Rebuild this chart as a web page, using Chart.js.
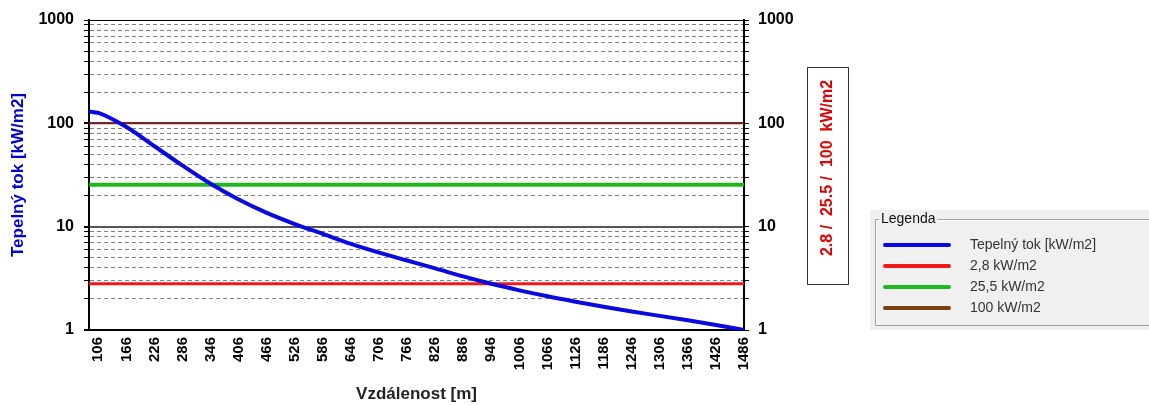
<!DOCTYPE html>
<html>
<head>
<meta charset="utf-8">
<script src="https://cdn.jsdelivr.net/npm/chart.js@4.4.1/dist/chart.umd.min.js"></script>
<style>
html,body{margin:0;padding:0;background:#fff;}
#wrap{position:relative;width:1149px;height:405px;}
</style>
</head>
<body>
<div id="wrap"><canvas id="chart" width="1149" height="405"></canvas></div>
<script>
// ── DATA ────────────────────────────────────────────────────────────────────
const distances = [86, 106, 166, 226, 286, 346, 406, 466, 526, 586, 646, 706, 766,
                   826, 886, 946, 1006, 1066, 1126, 1186, 1246, 1306, 1366, 1426, 1486];
const heatFlux  = [130, 126, 92, 60, 39, 26, 18.3, 13.6, 10.6, 8.5, 6.8, 5.6, 4.7,
                   3.95, 3.3, 2.8, 2.42, 2.12, 1.88, 1.68, 1.51, 1.37, 1.24, 1.12, 1.0];
const thresholds = [2.8, 25.5, 100];
const seriesLabels = ['Tepelný tok [kW/m2]', '2,8 kW/m2', '25,5 kW/m2', '100 kW/m2'];
const xTickValues = [106, 166, 226, 286, 346, 406, 466, 526, 586, 646, 706, 766, 826,
                     886, 946, 1006, 1066, 1126, 1186, 1246, 1306, 1366, 1426, 1486];
const yGridValues = [1, 2, 3, 4, 5, 6, 7, 8, 9, 10, 20, 30, 40, 50, 60, 70, 80, 90,
                     100, 200, 300, 400, 500, 600, 700, 800, 900, 1000];
const yLabelValues = [1, 10, 100, 1000];
const sideNote = '2.8 /  25.5 /  100  kW/m2';

const X_MIN = distances[0], X_MAX = distances[distances.length - 1];
const FONT = "'Liberation Sans', Arial, sans-serif";

const lineAt = v => [{x: X_MIN, y: v}, {x: X_MAX, y: v}];

// side box with the threshold note
const sideBoxPlugin = {
  id: 'sideBox',
  afterDraw(chart) {
    const c = chart.ctx;
    c.save();
    c.strokeStyle = '#333';
    c.lineWidth = 1;
    c.strokeRect(807.5, 67.5, 41, 217);
    c.translate(828, 168);
    c.rotate(-Math.PI / 2);
    c.fillStyle = '#e00000';
    c.font = 'bold 16px ' + FONT;
    c.textAlign = 'center';
    c.textBaseline = 'middle';
    c.fillText(sideNote, 0, 0);
    c.restore();
  }
};

// group-box style legend
const legendBoxPlugin = {
  id: 'legendBox',
  afterDraw(chart) {
    const c = chart.ctx;
    c.save();
    c.fillStyle = '#f0f0f0';
    c.fillRect(870, 210, 279, 120);
    // etched frame
    c.lineWidth = 1;
    c.strokeStyle = '#a0a0a0';
    c.beginPath();
    c.moveTo(875.5, 325.5); c.lineTo(875.5, 219.5); c.lineTo(1149, 219.5);
    c.moveTo(875.5, 325.5); c.lineTo(1149, 325.5);
    c.stroke();
    c.strokeStyle = '#ffffff';
    c.beginPath();
    c.moveTo(876.5, 325); c.lineTo(876.5, 220.5); c.lineTo(1149, 220.5);
    c.stroke();
    c.font = '14px ' + FONT;
    c.textBaseline = 'middle';
    const title = 'Legenda';
    const tw = c.measureText(title).width;
    c.fillStyle = '#f0f0f0';
    c.fillRect(879, 211, tw + 4, 16);
    c.fillStyle = '#111';
    c.fillText(title, 881, 219);
    chart.data.datasets.forEach((ds, i) => {
      const y = 245 + i * 21;
      c.strokeStyle = ds.legendColor || ds.borderColor;
      c.lineWidth = 4;
      c.lineCap = 'round';
      c.beginPath();
      c.moveTo(885, y); c.lineTo(949, y);
      c.stroke();
      c.fillStyle = '#333';
      c.fillText(ds.label, 970, y);
    });
    c.restore();
  }
};

const gridColor = ctx => {
  const v = ctx.tick ? ctx.tick.value : null;
  if (v === 1000) return '#000';
  if (yLabelValues.includes(v)) return '#555';
  return '#808080';
};

new Chart(document.getElementById('chart'), {
  type: 'line',
  data: {
    datasets: [
      {label: seriesLabels[0], data: distances.map((d, i) => ({x: d, y: heatFlux[i]})),
       borderColor: '#0a0ae0', borderWidth: 4, pointRadius: 0, cubicInterpolationMode: 'monotone', fill: false},
      {label: seriesLabels[1], data: lineAt(thresholds[0]), borderColor: '#f01818', borderWidth: 3, pointRadius: 0, fill: false},
      {label: seriesLabels[2], data: lineAt(thresholds[1]), borderColor: '#20b820', borderWidth: 4, pointRadius: 0, fill: false},
      {label: seriesLabels[3], data: lineAt(thresholds[2]), borderColor: '#7a1e1e', legendColor: '#7a4214', borderWidth: 2, pointRadius: 0, fill: false},
    ]
  },
  options: {
    responsive: false,
    animation: false,
    layout: {padding: {top: 20, left: 0, right: 0, bottom: 0}},
    plugins: {legend: {display: false}, tooltip: {enabled: false}},
    scales: {
      x: {
        type: 'linear', min: X_MIN, max: X_MAX,
        afterBuildTicks: s => { s.ticks = xTickValues.map(v => ({value: v})); },
        afterFit: s => { s.height = 75; },
        grid: {display: false, drawTicks: false},
        border: {display: true, color: '#000', width: 2},
        ticks: {autoSkip: false, minRotation: 90, maxRotation: 90, padding: 7,
                color: '#000', font: {family: FONT, size: 15, weight: 'bold'},
                callback: v => String(v)},
        title: {display: true, text: 'Vzdálenost [m]', color: '#222',
                font: {family: FONT, size: 17, weight: 'bold'}, padding: {top: 0, bottom: 0}}
      },
      y: {
        type: 'logarithmic', position: 'left', min: 1, max: 1000,
        afterBuildTicks: s => { s.ticks = yGridValues.map(v => ({value: v})); },
        afterFit: s => { s.width = 89; },
        grid: {color: gridColor, lineWidth: ctx => (ctx.tick && yLabelValues.includes(ctx.tick.value) && ctx.tick.value !== 1000 ? 2 : 1),
               tickColor: '#000', tickLength: 5},
        border: {display: true, color: '#000', width: 2,
                 dash: ctx => (ctx.tick && !yLabelValues.includes(ctx.tick.value) ? [4, 3] : [])},
        ticks: {autoSkip: false, padding: 10, color: '#000',
                font: {family: FONT, size: 16, weight: 'bold'},
                callback: v => (yLabelValues.includes(v) ? String(v) : '')},
        title: {display: true, text: 'Tepelný tok [kW/m2]', color: '#0000d0',
                font: {family: FONT, size: 17, weight: 'bold'}, padding: {top: 8, bottom: 0}}
      },
      y2: {
        type: 'logarithmic', position: 'right', min: 1, max: 1000,
        afterBuildTicks: s => { s.ticks = yGridValues.map(v => ({value: v})); },
        afterFit: s => { s.width = 405; },
        grid: {drawOnChartArea: false, tickColor: '#000', tickLength: 5},
        border: {display: true, color: '#000', width: 2},
        ticks: {autoSkip: false, padding: 9, color: '#000',
                font: {family: FONT, size: 16, weight: 'bold'},
                callback: v => (yLabelValues.includes(v) ? String(v) : '')}
      }
    }
  },
  plugins: [sideBoxPlugin, legendBoxPlugin]
});
</script>
</body>
</html>
